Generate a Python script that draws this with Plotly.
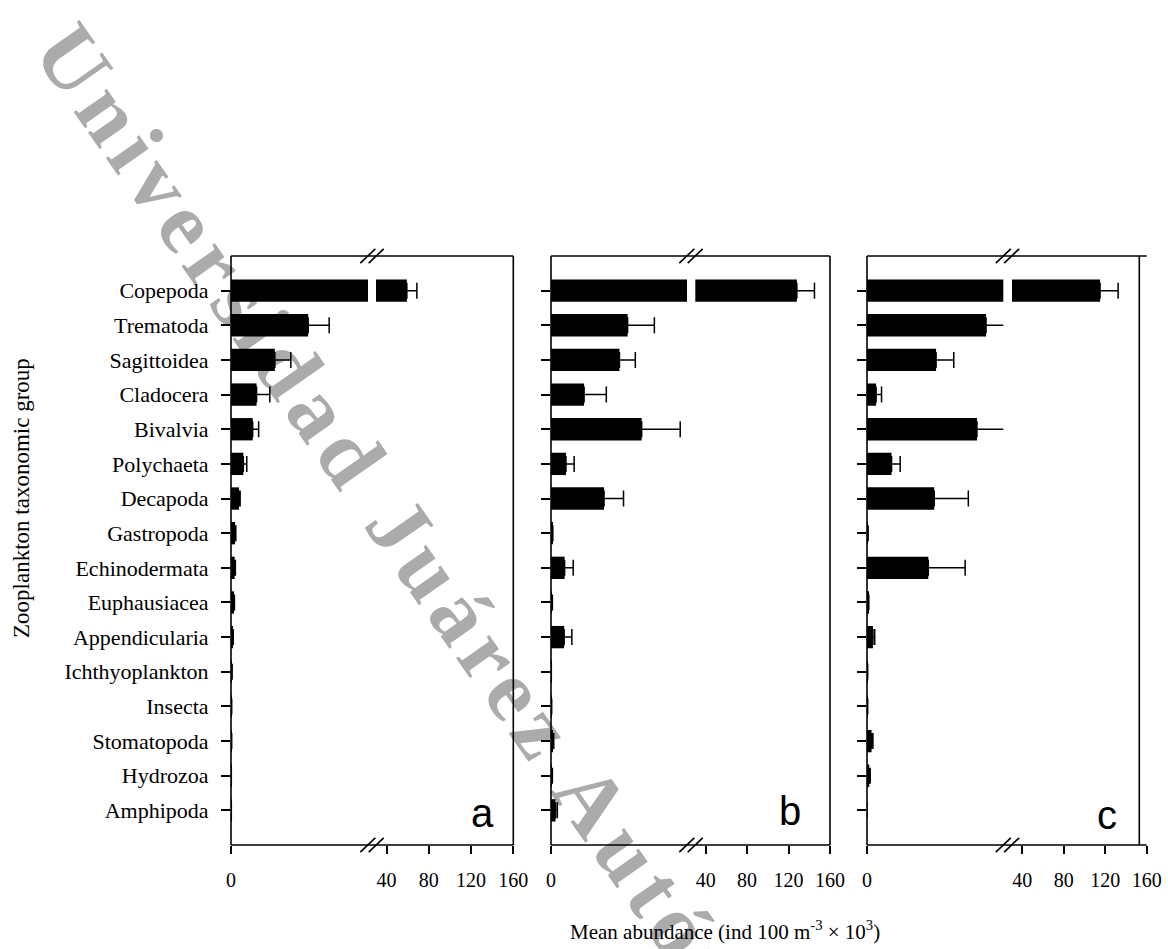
import math
import plotly.graph_objects as go

# ---------------- data ----------------
categories = ["Copepoda", "Trematoda", "Sagittoidea", "Cladocera", "Bivalvia",
              "Polychaeta", "Decapoda", "Gastropoda", "Echinodermata", "Euphausiacea",
              "Appendicularia", "Ichthyoplankton", "Insecta", "Stomatopoda",
              "Hydrozoa", "Amphipoda"]

mean_a = [59.2, 16.9, 9.6, 5.6, 4.75, 2.7, 1.75, 0.9, 0.8, 0.65, 0.4, 0.2, 0.1, 0.1, 0.05, 0.05]
err_a = [9.5, 4.6, 3.5, 2.9, 1.3, 0.75, 0.25, 0.15, 0.15, 0.1, 0.1, 0.05, 0.05, 0.05, 0.02, 0.02]

mean_b = [128, 16.9, 15.1, 7.3, 20.0, 3.3, 11.7, 0.3, 3.0, 0.2, 2.9, 0.05, 0.1, 0.4, 0.2, 1.0]
err_b = [17, 5.9, 3.5, 4.9, 8.5, 1.8, 4.3, 0.1, 1.9, 0.1, 1.7, 0.02, 0.05, 0.2, 0.1, 0.4]

mean_c = [115, 26.2, 15.2, 2.0, 24.2, 5.4, 14.8, 0.2, 13.5, 0.3, 1.3, 0.1, 0.1, 1.0, 0.5, 0.0]
err_c = [17.4, 6.0, 3.9, 1.2, 7.5, 1.9, 7.5, 0.05, 8.1, 0.1, 0.4, 0.05, 0.05, 0.3, 0.2, 0.0]

panel_letters = ["a", "b", "c"]
left_range = [0, 30]          # expanded low segment of the broken axis
right_range = [30, 160]       # compressed high segment
right_ticks = [40, 80, 120, 160]

y_title = "Zooplankton taxonomic group"
x_title = "Mean abundance (ind 100 m<sup>-3</sup> × 10<sup>3</sup>)"
watermark = "Universidad Juárez Autónoma de Tabasco"

# ---------------- layout helpers ----------------
W, H = 1168, 949
def px(x):
    return x / W
def py(y):
    return 1 - y / H

SERIF = "Liberation Serif, Times New Roman, serif"
SANS = "Liberation Sans, Arial, sans-serif"
LW = 1.6

TOP, BOT = 256, 845
panels = [
    dict(mean=mean_a, err=err_a, left=(231, 368), right=(376, 513.3),
         frame_r=513.3, axis_r=513.3, brk=372, letter=(482, 813)),
    dict(mean=mean_b, err=err_b, left=(551, 687), right=(695.3, 830),
         frame_r=830, axis_r=830, brk=691, letter=(790, 811)),
    dict(mean=mean_c, err=err_c, left=(867, 1003.3), right=(1012, 1146.7),
         frame_r=1139.3, axis_r=1146.7, brk=1007.5, letter=(1107, 815)),
]

fig = go.Figure()
shapes = []
annotations = []

# watermark: label of an invisible diagonal line, drawn beneath the chart
ang = 55.0
fs_wm = 88
spacing = 8
ca, sa = math.cos(math.radians(ang)), math.sin(math.radians(ang))
u_cx, u_cy = 77, 48                    # centre of the first letter
total_em = 18.17
str_len = total_em * fs_wm + spacing * len(watermark)
sx, sy = u_cx - 0.361 * fs_wm * ca, u_cy - 0.361 * fs_wm * sa
shapes.append(dict(type="line", xref="paper", yref="paper", layer="below",
                   x0=px(sx), y0=py(sy), x1=px(sx + str_len * ca), y1=py(sy + str_len * sa),
                   line=dict(color="rgba(0,0,0,0)", width=1),
                   label=dict(text=f'<span style="letter-spacing:{spacing}px">{watermark}</span>',
                              textposition="middle", textangle=ang,
                              xanchor="center", yanchor="middle", padding=0,
                              font=dict(family=SERIF, size=fs_wm, color="#ababab",
                                        weight="bold"))))

layout_axes = {}
for i, p in enumerate(panels):
    xl = "x" if i == 0 else f"x{2 * i + 1}"
    xr = f"x{2 * i + 2}"
    yk = "y" if i == 0 else f"y{i + 1}"
    xl_key = "xaxis" if i == 0 else f"xaxis{2 * i + 1}"
    xr_key = f"xaxis{2 * i + 2}"
    yk_key = "yaxis" if i == 0 else f"yaxis{i + 1}"

    err_style = dict(type="data", symmetric=False, color="black", thickness=1.5, width=8)

    # low segment
    fig.add_trace(go.Bar(
        x=p["mean"], y=categories, orientation="h", xaxis=xl, yaxis=yk,
        width=0.645, marker=dict(color="black", line=dict(width=0)),
        error_x=dict(array=p["err"], arrayminus=[0] * len(p["err"]), **err_style),
        showlegend=False, hoverinfo="skip"))
    # high segment (only values reaching the break)
    hi = [k for k, v in enumerate(p["mean"]) if v > right_range[0]]
    fig.add_trace(go.Bar(
        x=[p["mean"][k] for k in hi], y=[categories[k] for k in hi], orientation="h",
        xaxis=xr, yaxis=yk, width=0.645, marker=dict(color="black", line=dict(width=0)),
        error_x=dict(array=[p["err"][k] for k in hi], arrayminus=[0] * len(hi), **err_style),
        showlegend=False, hoverinfo="skip"))

    common_x = dict(anchor=yk, showgrid=False, zeroline=False, showline=False,
                    automargin=False,
                    ticks="outside", ticklen=8, tickwidth=1.5, tickcolor="black",
                    tickfont=dict(family=SERIF, size=20, color="black"),
                    ticklabelstandoff=9, fixedrange=True)
    layout_axes[xl_key] = dict(domain=[px(p["left"][0]), px(p["left"][1])], range=left_range,
                               tickvals=[0], ticktext=["0"], **common_x)
    layout_axes[xr_key] = dict(domain=[px(p["right"][0]), px(p["right"][1])], range=right_range,
                               tickvals=right_ticks, **common_x)
    layout_axes[yk_key] = dict(domain=[py(BOT), py(TOP)], anchor=xl, type="category",
                               categoryorder="array", categoryarray=categories,
                               range=[len(categories), -1], showgrid=False, zeroline=False,
                               showline=False, automargin=False,
                               ticks="outside", ticklen=9, tickwidth=1.5,
                               tickcolor="black", showticklabels=(i == 0),
                               tickfont=dict(family=SERIF, size=22, color="black"),
                               ticklabelstandoff=8, fixedrange=True)

    # frame
    x0 = p["left"][0]
    for (a, b, c, d) in [(x0, TOP, p["axis_r"], TOP), (x0, BOT, p["axis_r"], BOT),
                         (x0, TOP, x0, BOT), (p["frame_r"], TOP, p["frame_r"], BOT)]:
        shapes.append(dict(type="line", xref="paper", yref="paper", layer="above",
                           x0=px(a), y0=py(b), x1=px(c), y1=py(d),
                           line=dict(color="black", width=LW)))
    # break marks
    for yy in (TOP, BOT):
        for dx in (-4.2, 4.2):
            cx = p["brk"] + dx
            shapes.append(dict(type="line", xref="paper", yref="paper", layer="above",
                               x0=px(cx - 7.5), y0=py(yy + 7.2), x1=px(cx + 7.5), y1=py(yy - 7.2),
                               line=dict(color="black", width=LW)))
    # panel letter
    annotations.append(dict(text=panel_letters[i], xref="paper", yref="paper",
                            x=px(p["letter"][0]), y=py(p["letter"][1]),
                            xanchor="center", yanchor="middle", showarrow=False,
                            font=dict(family=SANS, size=40, color="black")))

annotations.append(dict(text=y_title, xref="paper", yref="paper", x=px(21), y=py(498),
                        xanchor="center", yanchor="middle", textangle=-90, showarrow=False,
                        font=dict(family=SERIF, size=23, color="black")))
annotations.append(dict(text=x_title, xref="paper", yref="paper", x=px(725), y=py(930),
                        xanchor="center", yanchor="middle", showarrow=False,
                        font=dict(family=SERIF, size=21, color="black")))

fig.update_layout(width=W, height=H, margin=dict(l=0, r=0, t=0, b=0, autoexpand=False),
                  paper_bgcolor="white", plot_bgcolor="rgba(0,0,0,0)",
                  barmode="overlay", shapes=shapes, annotations=annotations,
                  showlegend=False, **layout_axes)

fig.write_html("out.html")
